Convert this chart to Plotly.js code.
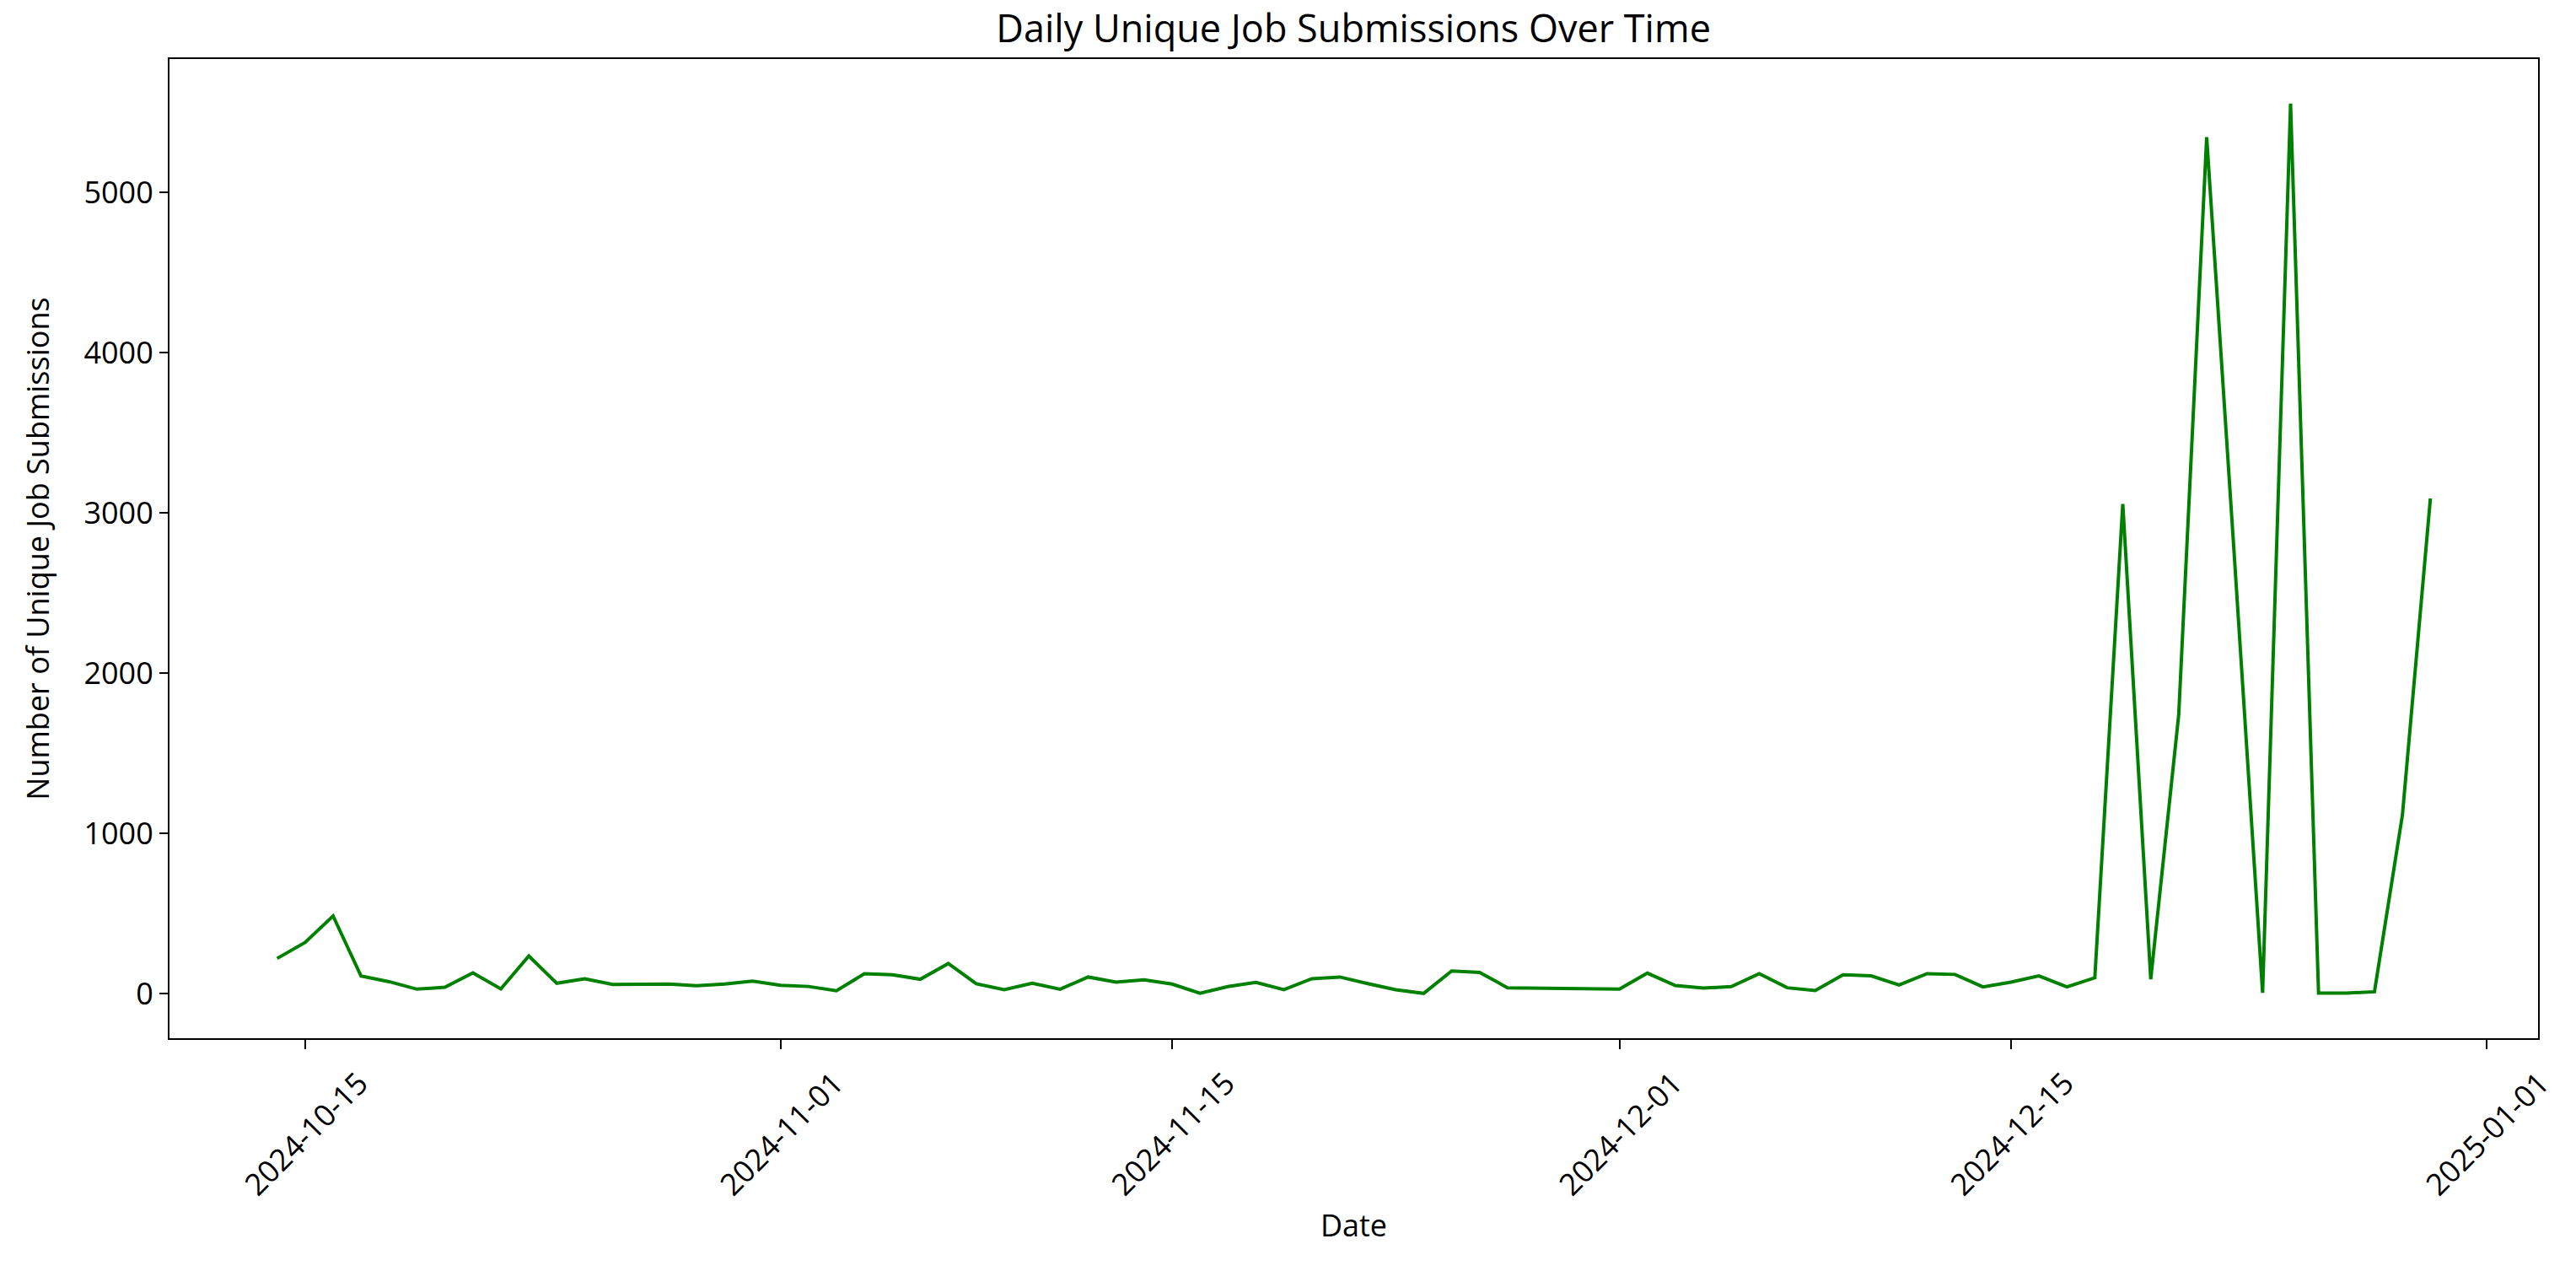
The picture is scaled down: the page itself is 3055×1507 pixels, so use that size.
<!DOCTYPE html>
<html>
<head>
<meta charset="utf-8">
<script src="https://cdn.plot.ly/plotly-3.0.1.min.js"></script>
<style>
  html, body { margin: 0; padding: 0; background: #fff; }
  #chart { width: 3055px; height: 1507px; }
</style>
</head>
<body>
<div id="chart"></div>
<script>
// daily unique job submissions (11-28..11-30 absent)
var dates = [
  '2024-10-14', '2024-10-15', '2024-10-16', '2024-10-17', '2024-10-18', '2024-10-19',
  '2024-10-20', '2024-10-21', '2024-10-22', '2024-10-23', '2024-10-24', '2024-10-25',
  '2024-10-26', '2024-10-27', '2024-10-28', '2024-10-29', '2024-10-30', '2024-10-31',
  '2024-11-01', '2024-11-02', '2024-11-03', '2024-11-04', '2024-11-05', '2024-11-06',
  '2024-11-07', '2024-11-08', '2024-11-09', '2024-11-10', '2024-11-11', '2024-11-12',
  '2024-11-13', '2024-11-14', '2024-11-15', '2024-11-16', '2024-11-17', '2024-11-18',
  '2024-11-19', '2024-11-20', '2024-11-21', '2024-11-22', '2024-11-23', '2024-11-24',
  '2024-11-25', '2024-11-26', '2024-11-27',
  '2024-12-01', '2024-12-02', '2024-12-03', '2024-12-04', '2024-12-05', '2024-12-06',
  '2024-12-07', '2024-12-08', '2024-12-09', '2024-12-10', '2024-12-11', '2024-12-12',
  '2024-12-13', '2024-12-14', '2024-12-15', '2024-12-16', '2024-12-17', '2024-12-18',
  '2024-12-19', '2024-12-20', '2024-12-21', '2024-12-22', '2024-12-23', '2024-12-24',
  '2024-12-25', '2024-12-26', '2024-12-27', '2024-12-28', '2024-12-29', '2024-12-30'
];
var submissions = [
  220, 320, 485, 110, 75, 28,
  40, 130, 30, 235, 65, 93,
  58, 58, 60, 50, 60, 78,
  52, 45, 18, 125, 118, 90,
  188, 62, 25, 65, 28, 104,
  72, 86, 60, 3, 44, 70,
  25, 93, 104, 63, 25, 2,
  142, 132, 37,
  28, 128, 51, 35, 44, 125,
  37, 20, 118, 111, 54, 125,
  120, 42, 72, 111, 42, 99,
  3055, 90, 1740, 5345, 2700, 5,
  5554, 3, 4, 12, 1115, 3090
];

var xTickVals = ['2024-10-15', '2024-11-01', '2024-11-15', '2024-12-01', '2024-12-15', '2025-01-01'];
var xTickText = ['2024-10-15', '2024-11-01', '2024-11-15', '2024-12-01', '2024-12-15', '2025-01-01'];
var yTickVals = [0, 1000, 2000, 3000, 4000, 5000];

var font = '"Open Sans", "DejaVu Sans", sans-serif';

var trace = {
  x: dates,
  y: submissions,
  type: 'scatter',
  mode: 'lines',
  line: {color: '#008000', width: 4},
  hoverinfo: 'x+y'
};

var layout = {
  width: 3055,
  height: 1507,
  showlegend: false,
  paper_bgcolor: '#ffffff',
  plot_bgcolor: '#ffffff',
  margin: {l: 201, r: 45, t: 70, b: 276, pad: 0},
  font: {family: font, size: 36, color: '#000000'},
  title: {
    text: 'Daily Unique Job Submissions Over Time',
    font: {family: font, size: 45, color: '#000000'},
    x: 0.5254, xanchor: 'center',
    y: 1 - 34 / 1507, yref: 'container', yanchor: 'middle'
  },
  xaxis: {
    type: 'date',
    range: ['2024-10-10 03:36', '2025-01-02 20:24'],
    tickvals: xTickVals,
    ticktext: xTickText,
    tickangle: -45,
    ticklabelshift: 64,
    ticklabelstandoff: 5,
    tickfont: {family: font, size: 36, color: '#000000'},
    ticks: 'outside', ticklen: 11, tickwidth: 2, tickcolor: '#000000',
    showline: true, linecolor: '#000000', linewidth: 2, mirror: true,
    showgrid: false, zeroline: false,
    automargin: false,
    title: {text: 'Date', font: {family: font, size: 36, color: '#000000'}, standoff: 14}
  },
  yaxis: {
    range: [-278, 5832],
    tickvals: yTickVals,
    tickfont: {family: font, size: 36, color: '#000000'},
    ticks: 'outside', ticklen: 10, tickwidth: 2, tickcolor: '#000000',
    showline: true, linecolor: '#000000', linewidth: 2, mirror: true,
    showgrid: false, zeroline: false,
    automargin: false,
    title: {text: 'Number of Unique Job Submissions', font: {family: font, size: 36, color: '#000000'}, standoff: 30}
  }
};

Plotly.newPlot('chart', [trace], layout, {displayModeBar: false, staticPlot: true});
</script>
</body>
</html>
